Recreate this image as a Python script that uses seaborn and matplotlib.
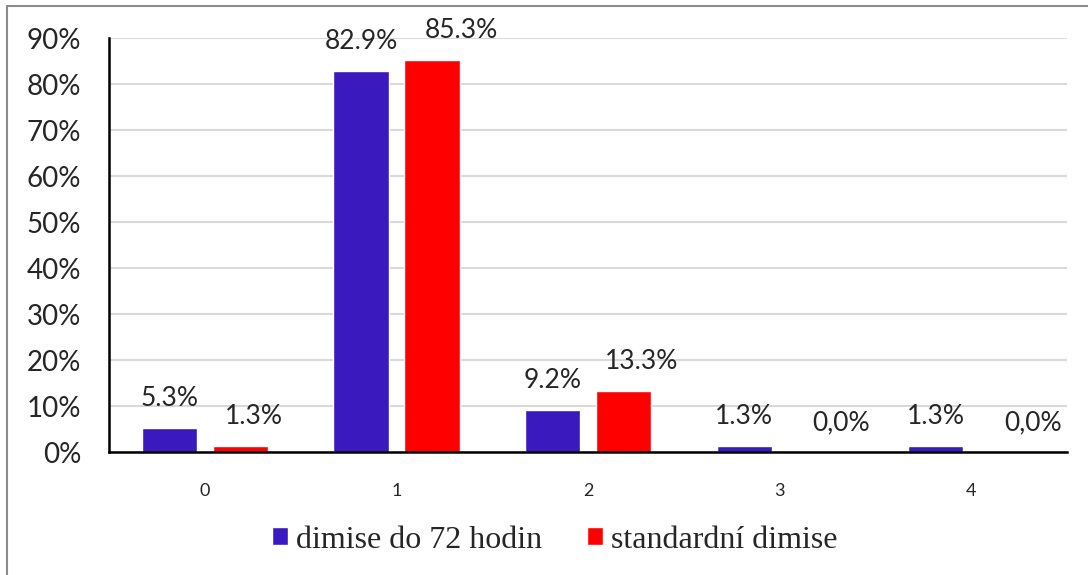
import matplotlib
matplotlib.use("Agg")
import matplotlib.pyplot as plt
import matplotlib.lines as mlines
import pandas as pd
import seaborn as sns

# chart data
categories = ["0", "1", "2", "3", "4"]
series_names = ["dimise do 72 hodin", "standardní dimise"]
blue_values = [5.3, 82.9, 9.2, 1.3, 1.3]
red_values = [1.3, 85.3, 13.3, 0.0, 0.0]
blue_labels = ["5.3%", "82.9%", "9.2%", "1.3%", "1.3%"]
red_labels = ["1.3%", "85.3%", "13.3%", "0,0%", "0,0%"]
y_ticks = [0, 10, 20, 30, 40, 50, 60, 70, 80, 90]

# horizontal nudges of the value labels (points), as Excel placed them
blue_nudge = [0, 0, 0, 0, 0]
red_nudge = [10, 21, 13, 19, 19]

colors = ["#3A1ABE", "#FF0000"]

df = pd.DataFrame({
    "cat": categories * 2,
    "value": blue_values + red_values,
    "series": [series_names[0]] * 5 + [series_names[1]] * 5,
})

sns.set_style("white")
plt.rcParams["font.family"] = ["Lato", "DejaVu Sans"]

fig = plt.figure(figsize=(10.88, 5.75), dpi=100)
ax = fig.add_axes([0.1002, 0.2139, 0.8805, 0.72])

sns.barplot(data=df, x="cat", y="value", hue="series", palette=colors,
            width=0.74, gap=0.22, ax=ax, saturation=1, legend=True)

ax.set_ylim(0, 90)
ax.set_xlim(-0.5, 4.5)
ax.set_yticks(y_ticks, labels=[f"{t}%" for t in y_ticks])
ax.tick_params(axis="y", length=0, labelsize=20, pad=20)
ax.tick_params(axis="x", length=0, labelsize=13, pad=22)
ax.set_xlabel("")
ax.set_ylabel("")
ax.yaxis.grid(True, color="#D9D9D9", linewidth=1.5)
ax.set_axisbelow(True)
for side in ["top", "right"]:
    ax.spines[side].set_visible(False)
for side in ["left", "bottom"]:
    ax.spines[side].set_color("black")
    ax.spines[side].set_linewidth(1.8)

# value labels above the bars
for container, labels, nudges in zip(ax.containers, [blue_labels, red_labels],
                                     [blue_nudge, red_nudge]):
    for bar, text, dx in zip(container, labels, nudges):
        ax.annotate(text, (bar.get_x() + bar.get_width() / 2, bar.get_height()),
                    xytext=(dx, 21), textcoords="offset points",
                    ha="center", va="center", fontsize=19)

leg = ax.legend(loc="center", bbox_to_anchor=(555 / 1088, 1 - 540 / 575),
                bbox_transform=fig.transFigure, ncol=2, frameon=False,
                prop={"family": "Liberation Serif", "size": 23},
                handlelength=0.5, handleheight=0.5, handletextpad=0.25,
                columnspacing=1.4)

# grey frame on the top and left edges
fig.add_artist(mlines.Line2D([7 / 1088, 7 / 1088], [0, 1 - 6 / 575],
                             color="#8C8C8C", linewidth=1.5))
fig.add_artist(mlines.Line2D([7 / 1088, 1], [1 - 6 / 575, 1 - 6 / 575],
                             color="#8C8C8C", linewidth=1.5))

fig.savefig("out.png", dpi=100)
